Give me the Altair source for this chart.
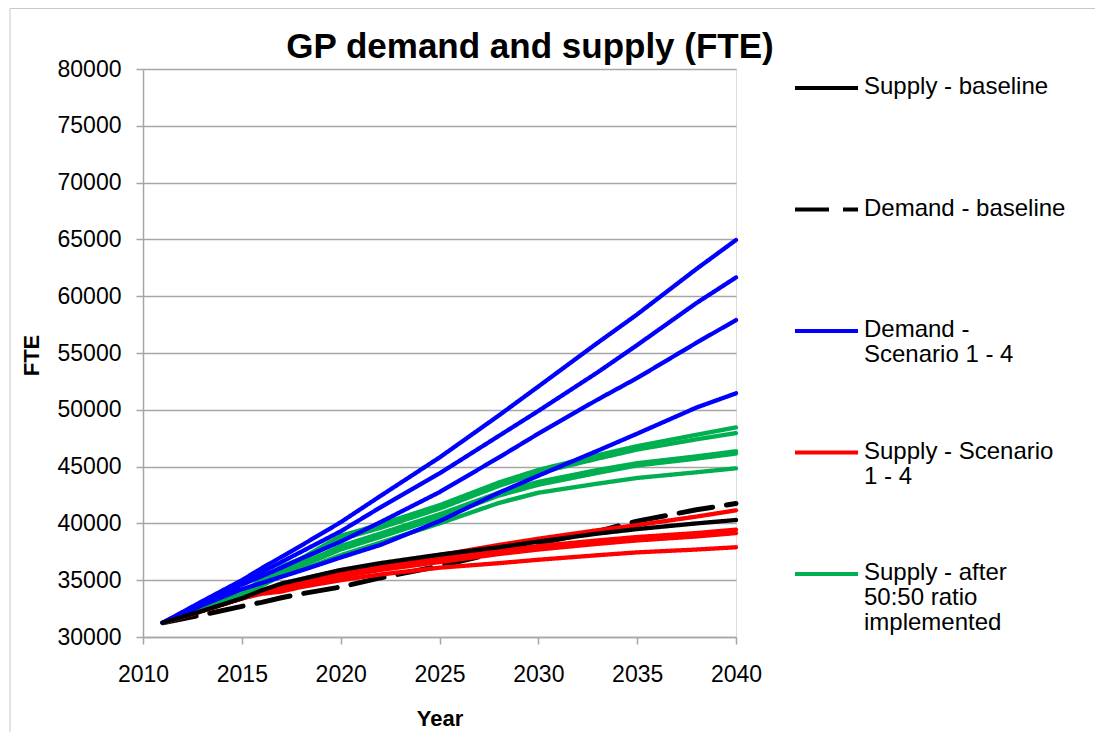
import altair as alt
import pandas as pd

# ---- data ----
years = [2011, 2013, 2015, 2016, 2017, 2018, 2020, 2022, 2025, 2028, 2030, 2033, 2035, 2038, 2040]

supply_baseline = [31250, 32300, 33400, 34100, 34700, 35100, 35900, 36500, 37250, 37900, 38400, 39100, 39500, 40000, 40300]
demand_baseline = [31250, 31950, 32700, 33050, 33450, 33800, 34400, 35200, 36250, 37450, 38250, 39300, 40200, 41200, 41750]

demand_s1 = [31250, 33150, 35000, 36050, 37050, 38050, 40100, 42400, 45800, 49500, 52050, 55900, 58400, 62400, 64950]
demand_s2 = [31250, 33050, 34800, 35700, 36600, 37500, 39300, 41400, 44400, 47700, 49900, 53300, 55700, 59400, 61650]
demand_s3 = [31250, 32950, 34600, 35350, 36100, 36900, 38400, 40100, 42750, 45800, 47900, 50900, 52800, 55900, 57900]
demand_s4 = [31250, 32800, 34200, 34750, 35300, 35850, 37000, 38100, 40200, 42700, 44200, 46400, 47900, 50200, 51450]

supply_s1 = [31250, 32300, 33400, 34100, 34600, 35000, 35800, 36400, 37200, 38100, 38650, 39400, 39850, 40600, 41150]
supply_s2 = [31250, 32300, 33400, 34000, 34400, 34800, 35500, 36100, 36900, 37600, 38000, 38500, 38800, 39150, 39450]
supply_s3 = [31250, 32300, 33400, 33900, 34200, 34600, 35300, 35900, 36600, 37300, 37700, 38200, 38500, 38850, 39150]
supply_s4 = [31250, 32300, 33400, 33800, 34000, 34400, 35000, 35500, 36100, 36500, 36800, 37200, 37450, 37700, 37900]

ratio_a = [31250, 32550, 33800, 35100, 36200, 36900, 38900, 39900, 41600, 43600, 44700, 46000, 46800, 47800, 48450]
ratio_b = [31250, 32500, 33700, 34950, 36000, 36700, 38600, 39600, 41300, 43300, 44450, 45700, 46500, 47400, 47950]
ratio_c = [31250, 32450, 33600, 34800, 35800, 36400, 38000, 39100, 40800, 42700, 43650, 44700, 45300, 45900, 46350]
ratio_d = [31250, 32450, 33550, 34700, 35650, 36250, 37700, 38800, 40500, 42450, 43400, 44450, 45100, 45700, 46150]
ratio_e = [31250, 32400, 33500, 34500, 35400, 35900, 37200, 38300, 40000, 41800, 42700, 43500, 44000, 44500, 44850]

legend_labels = [
    "Supply - baseline",
    "Demand - baseline",
    "Demand -\nScenario 1 - 4",
    "Supply - Scenario\n1 - 4",
    "Supply - after\n50:50 ratio\nimplemented",
]
legend_colors = ["#000000", "#000000", "#0000FF", "#FF0000", "#00B050"]
legend_dashes = [[1, 0], [34, 14], [1, 0], [1, 0], [1, 0]]

chart_title = "GP demand and supply (FTE)"
y_ticks = list(range(30000, 80001, 5000))
x_ticks = list(range(2010, 2041, 5))

# ---- long table ----
series = [
    ("demand_baseline", "Demand - baseline", demand_baseline),
    ("supply_s1", "Supply - Scenario\n1 - 4", supply_s1),
    ("supply_s2", "Supply - Scenario\n1 - 4", supply_s2),
    ("supply_s3", "Supply - Scenario\n1 - 4", supply_s3),
    ("supply_s4", "Supply - Scenario\n1 - 4", supply_s4),
    ("ratio_a", "Supply - after\n50:50 ratio\nimplemented", ratio_a),
    ("ratio_b", "Supply - after\n50:50 ratio\nimplemented", ratio_b),
    ("ratio_c", "Supply - after\n50:50 ratio\nimplemented", ratio_c),
    ("ratio_d", "Supply - after\n50:50 ratio\nimplemented", ratio_d),
    ("ratio_e", "Supply - after\n50:50 ratio\nimplemented", ratio_e),
    ("demand_s1", "Demand -\nScenario 1 - 4", demand_s1),
    ("demand_s2", "Demand -\nScenario 1 - 4", demand_s2),
    ("demand_s3", "Demand -\nScenario 1 - 4", demand_s3),
    ("demand_s4", "Demand -\nScenario 1 - 4", demand_s4),
    ("supply_baseline", "Supply - baseline", supply_baseline),
]
rows = []
for order, (sid, grp, vals) in enumerate(series):
    for yr, v in zip(years, vals):
        rows.append({"series": sid, "group": grp, "year": yr, "fte": v, "order": order})
df = pd.DataFrame(rows)
leg_df = pd.DataFrame({"label": legend_labels, "idx": list(range(len(legend_labels)))})
title_df = pd.DataFrame({"t": [chart_title]})

FONT = "Liberation Sans"
GRID = "#a6a6a6"

color_scale = alt.Scale(domain=legend_labels, range=legend_colors)
dash_scale = alt.Scale(domain=legend_labels, range=legend_dashes)

x_enc = alt.X(
    "year:Q",
    scale=alt.Scale(domain=[2010, 2040], nice=False, zero=False),
    axis=alt.Axis(
        values=x_ticks, format="d", grid=False, title="Year",
        domainColor=GRID, domainWidth=1.5, tickColor=GRID, tickWidth=1.5, tickSize=7,
        labelFont=FONT, labelFontSize=23, labelColor="#000000", labelPadding=19,
        labelFlush=False, labelOverlap=False,
        titleFont=FONT, titleFontSize=22, titleFontWeight="bold", titleColor="#000000",
        titleY=81, titleBaseline="middle",
    ),
)
y_enc = alt.Y(
    "fte:Q",
    scale=alt.Scale(domain=[30000, 80000], nice=False, zero=False),
    axis=alt.Axis(
        values=y_ticks, format="d", grid=True, gridColor=GRID, gridWidth=1.5,
        domainColor=GRID, domainWidth=1.5, tickColor=GRID, tickWidth=1.5, tickSize=7,
        labelFont=FONT, labelFontSize=23, labelColor="#000000", labelPadding=15,
        labelFlush=False, labelOverlap=False, title="FTE",
        titleFont=FONT, titleFontSize=22, titleFontWeight="bold", titleColor="#000000",
        titleX=-112, titleY=286, titleBaseline="middle", titleAlign="center",
    ),
)

lines = (
    alt.Chart(df)
    .mark_line(strokeCap="round", strokeJoin="round")
    .encode(
        x=x_enc,
        y=y_enc,
        detail="series:N",
        order="order:Q",
        color=alt.Color("group:N", scale=color_scale, legend=None),
        strokeDash=alt.StrokeDash("group:N", scale=dash_scale, legend=None),
        strokeWidth=alt.condition(alt.datum.series == "demand_baseline", alt.value(5), alt.value(4.3)),
    )
)

# draw each series as its own layer so the stacking order is controlled
layers = []
for order, (sid, grp, vals) in enumerate(series):
    layers.append(lines.transform_filter(alt.datum.series == sid))
main = alt.layer(*layers)

leg_y = alt.Y("idx:Q", scale=alt.Scale(domain=[0, len(legend_labels) - 1], range=[19, 505], nice=False, zero=False), axis=None)
leg_sym = (
    alt.Chart(leg_df)
    .mark_rule(strokeWidth=4)
    .encode(
        y=leg_y,
        x=alt.value(652), x2=alt.value(715),
        color=alt.Color("label:N", scale=color_scale, legend=None),
        strokeDash=alt.StrokeDash("label:N", scale=dash_scale, legend=None),
    )
)
leg_txt = (
    alt.Chart(leg_df)
    .mark_text(align="left", baseline="top", lineBreak="\n", dy=-13, fontSize=24,
               lineHeight=25, font=FONT, color="#000000")
    .encode(y=leg_y, x=alt.value(721), text="label:N")
)
legend = alt.layer(leg_sym, leg_txt)

title_mark = alt.Chart(title_df).mark_text(
    align="center", baseline="alphabetic", font=FONT, fontSize=35, fontWeight="bold", color="#000000"
).encode(text="t:N", x=alt.value(387), y=alt.value(-11))

frame = alt.Chart(title_df).mark_rule(color="#c8c8c8", strokeWidth=1).encode(
    x=alt.value(-133), y=alt.value(-60.5), y2=alt.value(663)
)
frame_top = alt.Chart(title_df).mark_rule(color="#c8c8c8", strokeWidth=1).encode(
    x=alt.value(-133), x2=alt.value(952), y=alt.value(-60.5)
)

chart = (
    alt.layer(main, legend, title_mark, frame, frame_top)
    .resolve_scale(y="independent")
    .properties(
        width=593,
        height=568,
        padding={"left": 135, "top": 61, "right": 359, "bottom": 95},
        autosize=alt.AutoSizeParams(type="none"),
    )
    .configure_view(stroke=None)
    .configure(background="white")
)

chart.save("out.html", embed_options={"renderer": "svg", "actions": False})
